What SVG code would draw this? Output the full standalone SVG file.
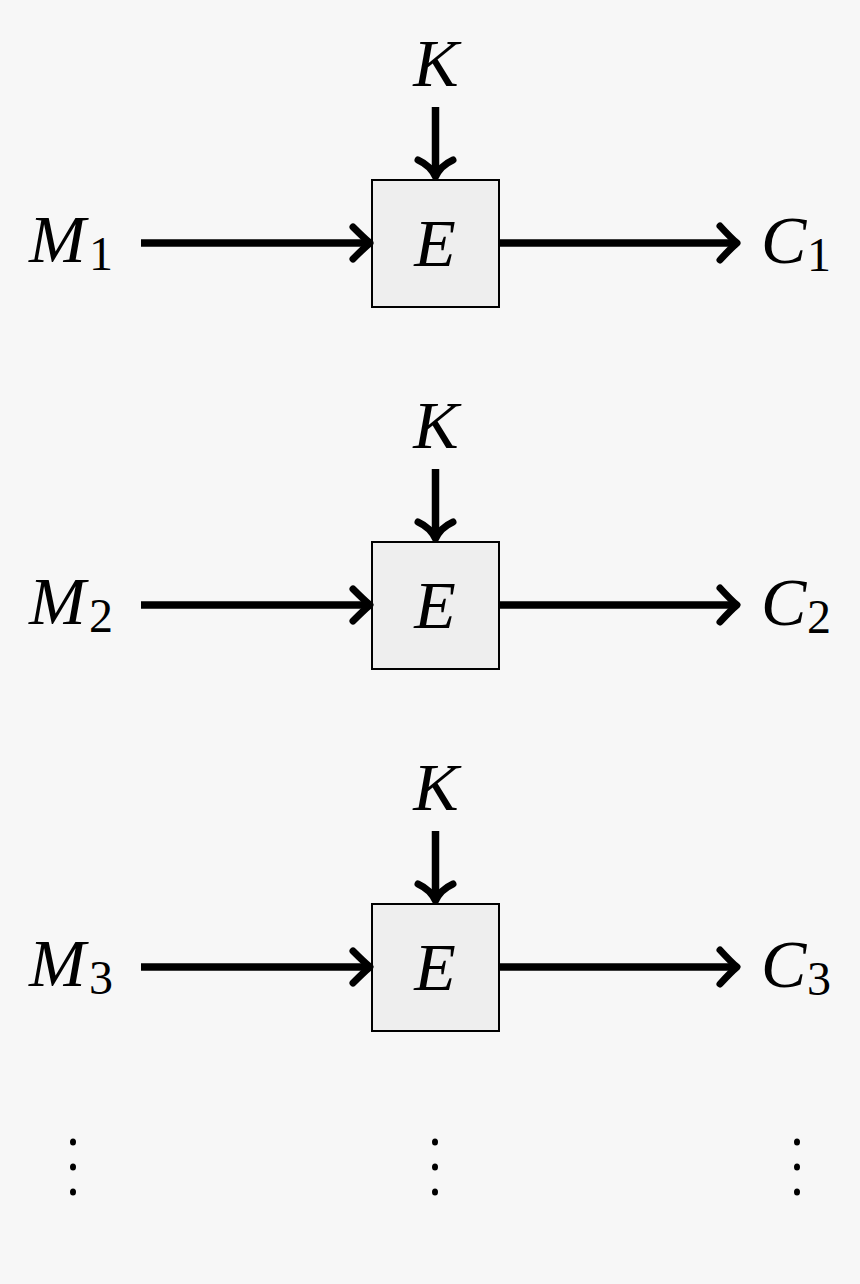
<svg xmlns="http://www.w3.org/2000/svg" width="860" height="1284" viewBox="0 0 860 1284">
<defs>
<style>
.bg{fill:#f7f7f7}
.box{fill:#eeeeee;stroke:#000;stroke-width:2}
.ln{stroke:#000;stroke-width:7.5;fill:none;stroke-linecap:butt}
.hd{stroke:#000;stroke-width:7;fill:none;stroke-linecap:round;stroke-linejoin:round}
.v{font-family:"Liberation Serif","DejaVu Serif",serif;font-style:italic;font-size:68px;fill:#000}
.s{font-family:"Liberation Serif","DejaVu Serif",serif;font-size:48px;fill:#000}
.dot{fill:#000}
</style>
</defs>
<rect class="bg" x="0" y="0" width="860" height="1284"/>

<g id="row1">
<g id="K1"><text class="v" x="436" y="86" text-anchor="middle">K</text></g>
<g id="E1"><rect class="box" x="372" y="180" width="127" height="127"/><text class="v" x="435" y="266" text-anchor="middle">E</text></g>
<g id="M1"><text class="v" x="29" y="262">M</text><text class="s" x="89" y="270">1</text></g>
<g id="C1"><text class="v" x="761" y="263">C</text><text class="s" x="807" y="271">1</text></g>
</g>
<g id="row2">
<g id="K2"><text class="v" x="436" y="448" text-anchor="middle">K</text></g>
<g id="E2"><rect class="box" x="372" y="542" width="127" height="127"/><text class="v" x="435" y="628" text-anchor="middle">E</text></g>
<g id="M2"><text class="v" x="29" y="624">M</text><text class="s" x="89" y="632">2</text></g>
<g id="C2"><text class="v" x="761" y="625">C</text><text class="s" x="807" y="633">2</text></g>
</g>
<g id="row3">
<g id="K3"><text class="v" x="436" y="810" text-anchor="middle">K</text></g>
<g id="E3"><rect class="box" x="372" y="904" width="127" height="127"/><text class="v" x="435" y="990" text-anchor="middle">E</text></g>
<g id="M3"><text class="v" x="29" y="986">M</text><text class="s" x="89" y="994">3</text></g>
<g id="C3"><text class="v" x="761" y="987">C</text><text class="s" x="807" y="995">3</text></g>
</g>

<g id="connectors">
<!-- row 1 -->
<line class="ln" x1="435.5" y1="107" x2="435.5" y2="175"/>
<path class="hd" d="M418,160 Q431,166 435.5,177 Q440,166 453,160"/>
<line class="ln" x1="141" y1="243" x2="367" y2="243"/>
<path class="hd" d="M353,227 Q364,238 370,243 Q364,248 353,259"/>
<line class="ln" x1="499" y1="243" x2="734" y2="243"/>
<path class="hd" d="M720,226 Q731,238 737,243 Q731,248 720,260"/>
<!-- row 2 -->
<line class="ln" x1="435.5" y1="469" x2="435.5" y2="537"/>
<path class="hd" d="M418,522 Q431,528 435.5,539 Q440,528 453,522"/>
<line class="ln" x1="141" y1="605" x2="367" y2="605"/>
<path class="hd" d="M353,589 Q364,600 370,605 Q364,610 353,621"/>
<line class="ln" x1="499" y1="605" x2="734" y2="605"/>
<path class="hd" d="M720,588 Q731,600 737,605 Q731,610 720,622"/>
<!-- row 3 -->
<line class="ln" x1="435.5" y1="831" x2="435.5" y2="899"/>
<path class="hd" d="M418,884 Q431,890 435.5,901 Q440,890 453,884"/>
<line class="ln" x1="141" y1="967" x2="367" y2="967"/>
<path class="hd" d="M353,951 Q364,962 370,967 Q364,972 353,983"/>
<line class="ln" x1="499" y1="967" x2="734" y2="967"/>
<path class="hd" d="M720,950 Q731,962 737,967 Q731,972 720,984"/>
</g>

<g id="vdots">
<ellipse class="dot" cx="73" cy="1142" rx="3" ry="3.6"/>
<ellipse class="dot" cx="73" cy="1167" rx="3" ry="3.6"/>
<ellipse class="dot" cx="73" cy="1192" rx="3" ry="3.6"/>
<ellipse class="dot" cx="435" cy="1142" rx="3" ry="3.6"/>
<ellipse class="dot" cx="435" cy="1167" rx="3" ry="3.6"/>
<ellipse class="dot" cx="435" cy="1192" rx="3" ry="3.6"/>
<ellipse class="dot" cx="797" cy="1142" rx="3" ry="3.6"/>
<ellipse class="dot" cx="797" cy="1167" rx="3" ry="3.6"/>
<ellipse class="dot" cx="797" cy="1192" rx="3" ry="3.6"/>
</g>
</svg>
